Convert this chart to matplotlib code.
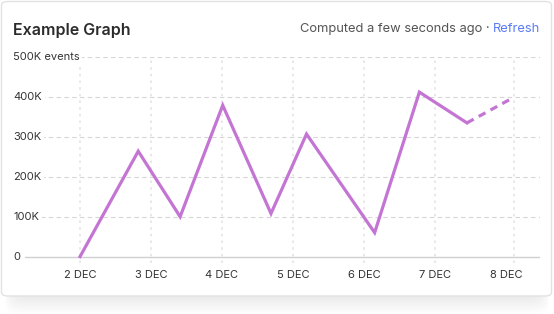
import matplotlib
matplotlib.use("Agg")
import matplotlib.pyplot as plt
from matplotlib.patches import FancyBboxPatch

# data (x = day of December)
days = [2.0, 2.82, 3.41, 4.01, 4.69, 5.19, 6.15, 6.78, 7.45, 8.11]
events = [0, 264000, 100000, 379000, 108000, 307000, 60000, 412000, 335000, 399000]
tick_days = [2, 3, 4, 5, 6, 7, 8]
tick_labels = ["2 DEC", "3 DEC", "4 DEC", "5 DEC", "6 DEC", "7 DEC", "8 DEC"]
y_ticks = [0, 100000, 200000, 300000, 400000, 500000]
y_labels = ["0", "100K", "200K", "300K", "400K", "500K events"]

W, H = 554, 314
plt.rcParams["font.family"] = ["Inter", "DejaVu Sans"]

fig = plt.figure(figsize=(W / 100, H / 100), dpi=100)
fig.patch.set_facecolor("white")


def px(x0, y0, w, h):
    # pixel box (top-left origin) -> figure fraction
    return x0 / W, 1 - (y0 + h) / H, w / W, h / H


# soft shadow under the card
for i in range(10):
    x0, y0, w, h = px(14 - i, 14 + 1.8 * i, 526 + 2 * i, 284)
    fig.patches.append(FancyBboxPatch((x0, y0), w, h, boxstyle="round,pad=0,rounding_size=0.03",
                                      transform=fig.transFigure, facecolor="black", alpha=0.008,
                                      edgecolor="none", zorder=0))
x0, y0, w, h = px(1.5, 1.5, 550, 294.5)
fig.patches.append(FancyBboxPatch((x0, y0), w, h, boxstyle="round,pad=0,rounding_size=0.012",
                                  transform=fig.transFigure, facecolor="white",
                                  edgecolor="#e2e2e2", linewidth=1, zorder=1))

fig.text(13 / W, 1 - 30 / H, "Example Graph", fontsize=11.5, fontweight="semibold",
         color="#2b2b2b", va="center", ha="left")
t = fig.text(540 / W, 1 - 29 / H, "Refresh", fontsize=9.3, color="#5b7cf6", va="center", ha="right")
fig.canvas.draw()
bb = t.get_window_extent()
fig.text(bb.x0 / W, 1 - 29 / H, "Computed a few seconds ago · ", fontsize=9.3, color="#555555",
         va="center", ha="right")

# plot area: x 25..540 px, y 57..263 px
ax = fig.add_axes([25 / W, 1 - 263 / H, 515 / W, 206 / H])
ax.set_facecolor("none")
ax.set_zorder(2)
ax.set_xlim(1.225, 8.479)
ax.set_ylim(-16000, 500000)
for s in ax.spines.values():
    s.set_visible(False)

for v in y_ticks[1:]:
    ax.axhline(v, color="#d6d6d6", linewidth=0.8, linestyle=(0, (4, 3)), zorder=1)
ax.axhline(0, color="#d0d0d0", linewidth=1, zorder=1)
for d in tick_days[:-1] + [days[-1]]:
    ax.plot([d, d], [-16000, 500000], color="#e4e4e4", linewidth=1.2,
            linestyle=(0, (1.5, 2.5)), zorder=1)

ax.plot(days[:-1], events[:-1], color="#c475d4", linewidth=2.3, solid_joinstyle="miter", zorder=3)
ax.plot(days[-2:], events[-2:], color="#c475d4", linewidth=2.3, linestyle=(0, (2.4, 1.8)), zorder=3)

ax.set_xticks(tick_days)
ax.set_xticklabels(tick_labels, fontsize=8, color="#333333")
ax.tick_params(axis="x", length=0, pad=5)
ax.set_yticks([])

ytr = ax.get_yaxis_transform()
for v, lab in zip(y_ticks, y_labels):
    ax.text(-12 / 515, v, lab, transform=ytr, ha="left", va="center", fontsize=8, color="#333333",
            bbox=dict(boxstyle="square,pad=0.25", facecolor="white", edgecolor="none"), zorder=4)

fig.savefig("out.png", dpi=100)
